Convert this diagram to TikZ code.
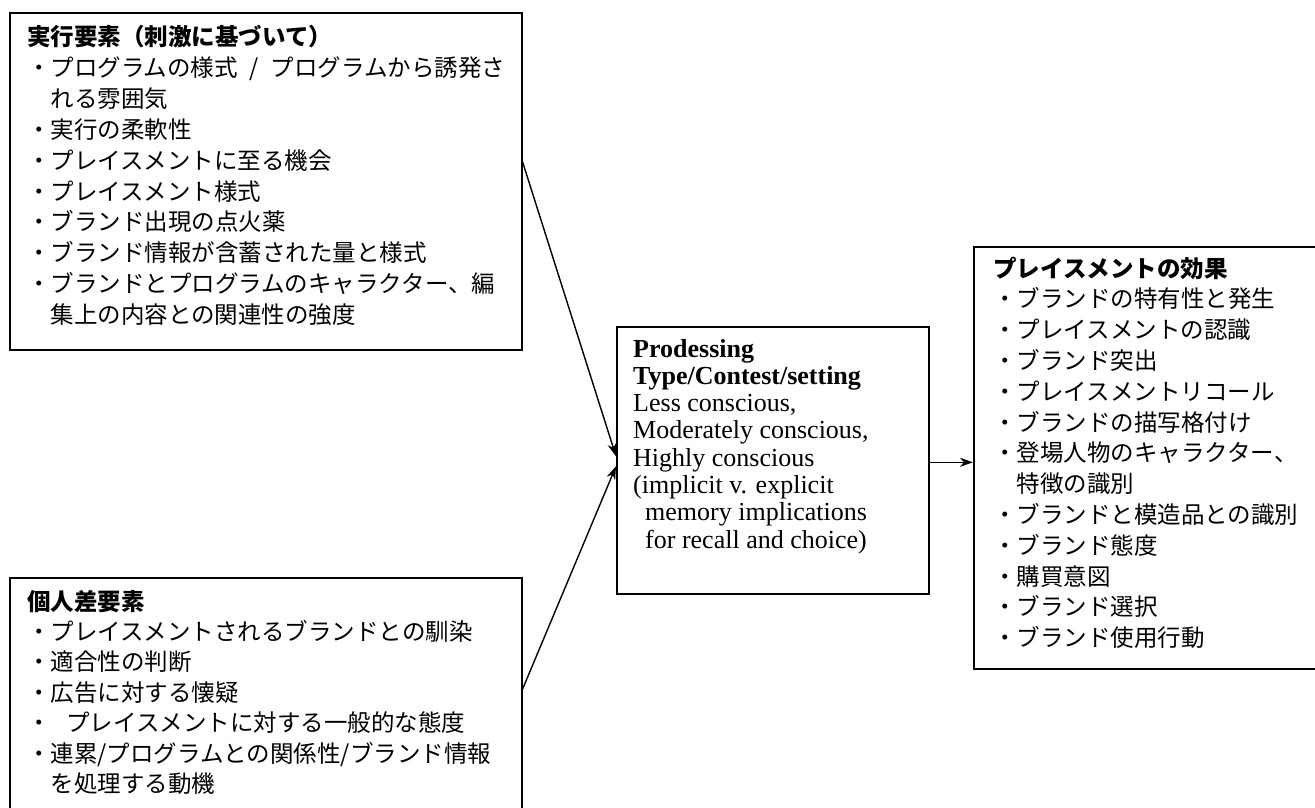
\documentclass[tikz,border=0pt]{standalone}
\usepackage{fontspec}
\setmainfont{Liberation Serif}
\newfontfamily\jp{Noto Sans CJK JP}
\usetikzlibrary{calc,arrows.meta}
\begin{document}
\begin{tikzpicture}[x=1pt,y=-1pt,
  box/.style={draw=black, line width=1.6pt, inner sep=0pt, anchor=north west},
  jt/.style={anchor=base west, inner sep=0pt, font=\jp\fontsize{23.5pt}{30pt}\selectfont},
  et/.style={anchor=base west, inner sep=0pt, font=\fontsize{26pt}{27pt}\selectfont},
  conn/.style={line width=1.4pt, -{Stealth[length=13pt,width=9pt,inset=4pt]}}]
\useasboundingbox (0,0) rectangle (1315,808);

% boxes
\node[box, minimum width=512pt, minimum height=337pt] (tl) at (9,12) {};
\node[box, minimum width=512pt, minimum height=242pt] (bl) at (9,577) {};
\node[box, minimum width=312pt, minimum height=267pt] (mid) at (616,326) {};
\node[box, minimum width=352pt, minimum height=422pt] (rt) at (973,246) {};

% top-left text
\foreach \t [count=\i from 0] in {
  {\bfseries 実行要素（刺激に基づいて）},
  {・プログラムの様式\hspace{0.5em}/\hspace{0.5em}プログラムから誘発さ},
  {\hspace{1em}れる雰囲気},
  {・実行の柔軟性},
  {・プレイスメントに至る機会},
  {・プレイスメント様式},
  {・ブランド出現の点火薬},
  {・ブランド情報が含蓄された量と様式},
  {・ブランドとプログラムのキャラクター、編},
  {\hspace{1em}集上の内容との関連性の強度}}
  \node[jt] (tlt\i) at (27, 46+30.8*\i) {\t};

% bottom-left text
\foreach \t [count=\i from 0] in {
  {\bfseries 個人差要素},
  {・プレイスメントされるブランドとの馴染},
  {・適合性の判断},
  {・広告に対する懐疑},
  {・\hspace{0.66em}プレイスメントに対する一般的な態度},
  {・連累/プログラムとの関係性/ブランド情報},
  {\hspace{1em}を処理する動機}}
  \node[jt] (blt\i) at (27, 610+30.4*\i) {\t};

% middle text
\foreach \t/\dx [count=\i from 0] in {
  {\bfseries Prodessing}/0,
  {\bfseries Type/Contest/setting}/0,
  {Less conscious,}/0,
  {Moderately conscious,}/0,
  {Highly conscious}/0,
  {(implicit v. explicit}/0,
  {memory implications}/12,
  {for recall and choice)}/12}
  \node[et] (mt\i) at (633+\dx, 357+27.3*\i) {\t};

% right text
\foreach \t [count=\i from 0] in {
  {\bfseries プレイスメントの効果},
  {・ブランドの特有性と発生},
  {・プレイスメントの認識},
  {・ブランド突出},
  {・プレイスメントリコール},
  {・ブランドの描写格付け},
  {・登場人物のキャラクター、},
  {\hspace{1em}特徴の識別},
  {・ブランドと模造品との識別},
  {・ブランド態度},
  {・購買意図},
  {・ブランド選択},
  {・ブランド使用行動}}
  \node[jt] (rtt\i) at (993, 277+30.8*\i) {\t};

% connectors
\coordinate (a1s) at ($(tl.north east)+(0,150)$);
\coordinate (a2s) at ($(bl.north east)+(0,112)$);
\coordinate (a3s) at ($(mid.east)+(0,2)$);
\draw[conn] (a1s) -- ($(mid.west)+(0,-4)$);
\draw[conn] (a2s) -- ($(mid.west)+(0,6)$);
\draw[conn] (a3s) -- (a3s -| rt.west);
\end{tikzpicture}
\end{document}
